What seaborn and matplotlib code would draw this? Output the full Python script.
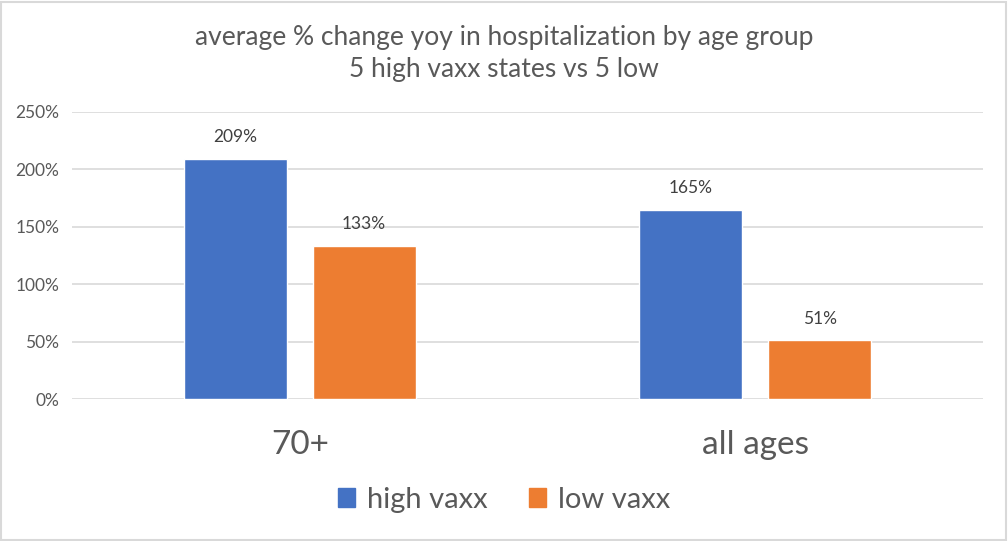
import pandas as pd
import seaborn as sns
import numpy as np
import matplotlib.pyplot as plt
from matplotlib.patches import Rectangle

groups = ['70+', 'all ages']
series = ['high vaxx', 'low vaxx']
high_vaxx = [2.09, 1.65]
low_vaxx = [1.33, 0.51]
colors = ['#4472C4', '#ED7D31']

df = pd.DataFrame({
    'group': groups * 2,
    'series': [series[0]] * 2 + [series[1]] * 2,
    'value': high_vaxx + low_vaxx,
})

sns.set_style('white')
plt.rcParams['font.family'] = ['Lato', 'DejaVu Sans']
txt = '#595959'

fig = plt.figure(figsize=(10.08, 5.41), dpi=100)
ax = fig.add_axes([72/1008, 1-399/541, (983-72)/1008, (399-112)/541])

sns.barplot(data=df, x='group', y='value', hue='series', order=groups,
            hue_order=series, palette=colors, width=0.565, gap=0.2,
            saturation=1, ax=ax, legend=False)

ax.set_ylim(0, 2.5)
ax.set_xlim(-0.5, 1.5)
ax.set_yticks(np.arange(0, 2.51, 0.5))
ax.set_yticklabels([f'{int(round(t*100))}%' for t in np.arange(0, 2.51, 0.5)],
                   fontsize=12.5, color=txt)
ax.set_xticklabels(groups, fontsize=24, color=txt)
ax.tick_params(axis='x', pad=22, length=0)
ax.tick_params(axis='y', pad=9, length=0)
ax.yaxis.grid(True, color='#D9D9D9', linewidth=1.2)
ax.set_axisbelow(True)
for s in ax.spines.values():
    s.set_visible(False)
ax.set_xlabel('')
ax.set_ylabel('')

for cont in ax.containers:
    labels = [f'{int(round(b.get_height()*100))}%' for b in cont]
    ax.bar_label(cont, labels=labels, padding=10, fontsize=12.5, color='#404040')

fig.text(0.5, 1-37/541, 'average % change yoy in hospitalization by age group',
         ha='center', va='center', fontsize=19, color=txt)
fig.text(0.5, 1-70/541, '5 high vaxx states vs 5 low',
         ha='center', va='center', fontsize=19, color=txt)

# legend
handles = [Rectangle((0, 0), 1, 1, color=c) for c in colors]
fig.legend(handles, series, loc='center', bbox_to_anchor=(0.5, 1-500/541),
           ncol=2, frameon=False, fontsize=21, labelcolor=txt,
           handlelength=0.6, handleheight=0.6, handletextpad=0.4,
           columnspacing=1.4)

fig.patches.append(Rectangle((1/1008, 1/541), 1-3/1008, 1-3/541,
                             transform=fig.transFigure, fill=False,
                             edgecolor='#D9D9D9', linewidth=1.5))

plt.savefig('out.png', dpi=100)
